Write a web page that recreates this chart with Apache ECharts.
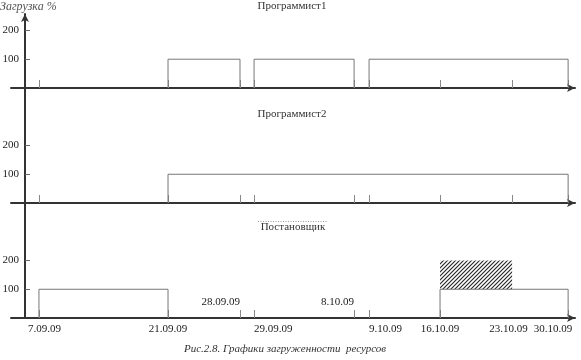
<!DOCTYPE html>
<html>
<head>
<meta charset="utf-8">
<script src="https://cdn.jsdelivr.net/npm/echarts@6/dist/echarts.min.js"></script>
<style>html,body{margin:0;padding:0;background:#fff}#c{width:581px;height:360px}</style>
</head>
<body>
<div id="c"></div>
<script>
// ---- data ----
const dateLabels = ['7.09.09','21.09.09','28.09.09','29.09.09','8.10.09','9.10.09','16.10.09','23.10.09','30.10.09'];
// position of each date on the (schematic) time axis, in axis units
const datePos = [1.4, 14.33, 21.54, 22.95, 32.97, 34.47, 41.58, 48.8, 54.41];
const panelTitles = ['Программист1', 'Программист2', 'Постановщик'];
const capacity = 100;
const yTickValues = [100, 200];
// resource loads: [start, end, load %]
const prog1Load = [['21.09.09','28.09.09',100],['29.09.09','8.10.09',100],['9.10.09','30.10.09',100]];
const prog2Load = [['21.09.09','30.10.09',100]];
const postLoad  = [['7.09.09','21.09.09',100],['16.10.09','23.10.09',200],['23.10.09','30.10.09',100]];
// baseline tick marks per panel
const prog1Ticks = ['7.09.09','21.09.09','28.09.09','29.09.09','8.10.09','9.10.09','16.10.09','23.10.09','30.10.09'];
const prog2Ticks = ['7.09.09','21.09.09','28.09.09','29.09.09','8.10.09','9.10.09','16.10.09','23.10.09','30.10.09'];
const postTicks  = ['7.09.09','21.09.09','28.09.09','29.09.09','8.10.09','9.10.09','16.10.09','30.10.09'];
// date labels under/over the bottom axis
const labelsCenter = ['7.09.09','21.09.09','16.10.09','23.10.09','30.10.09'];
const labelsLeft   = ['29.09.09','9.10.09'];
const labelsAbove  = ['28.09.09','8.10.09'];
const yTitle = 'Загрузка %';
const caption = 'Рис.2.8. Графики загруженности  ресурсов';

// ---- helpers ----
const pos = d => datePos[dateLabels.indexOf(d)];
const lab = v => { let best = 0; datePos.forEach((p,i)=>{ if (Math.abs(p-v) < Math.abs(datePos[best]-v)) best = i; }); return dateLabels[best]; };
const FONT = '"Liberation Serif", "DejaVu Serif", serif';

function outlines(loads){
  const segs = loads.map(l => [pos(l[0]), pos(l[1]), Math.min(l[2], capacity)]).sort((a,b)=>a[0]-b[0]);
  const merged = [];
  segs.forEach(s => {
    const last = merged[merged.length-1];
    if (last && Math.abs(last[1]-s[0]) < 1e-6 && last[2] === s[2]) last[1] = s[1];
    else merged.push(s.slice());
  });
  return merged.map(s => [[s[0],0],[s[0],s[2]],[s[1],s[2]],[s[1],0]]);
}
function overloads(loads){
  return loads.filter(l => l[2] > capacity).map(l => [pos(l[0]), pos(l[1]), capacity, l[2]]);
}
function hatchPattern(){
  const c = document.createElement('canvas'); c.width = c.height = 4;
  const g = c.getContext('2d');
  g.strokeStyle = '#2a2a2a'; g.lineWidth = 1.2;
  g.beginPath();
  g.moveTo(0,4); g.lineTo(4,0);
  g.moveTo(-1,1); g.lineTo(1,-1);
  g.moveTo(3,5); g.lineTo(5,3);
  g.stroke();
  return c;
}

const grids = [
  {left: 11, right: 6, top: 14, height: 74, containLabel: false, outerBoundsMode: 'none'},
  {left: 11, right: 6, top: 88, height: 115, containLabel: false, outerBoundsMode: 'none'},
  {left: 11, right: 6, top: 203, height: 115, containLabel: false, outerBoundsMode: 'none'}
];
const yMax = [257, 400, 400];
const tickSets = [prog1Ticks, prog2Ticks, postTicks];
const loadSets = [prog1Load, prog2Load, postLoad];

const richLabels = {
  n: {fontFamily: 'Liberation Serif', fontSize: 11, color: '#222'},
  r: {fontFamily: 'Liberation Serif', fontSize: 11, color: '#222', padding: [0,0,0,11]},
  l: {fontFamily: 'Liberation Serif', fontSize: 11, color: '#222', padding: [0,7,0,0]},
  ll: {fontFamily: 'Liberation Serif', fontSize: 11, color: '#222', padding: [0,30,0,0]}
};
const centerFmt = v => {
  const t = lab(v);
  if (t === '7.09.09') return '{r|' + t + '}';
  if (t === '23.10.09') return '{l|' + t + '}';
  if (t === '30.10.09') return '{ll|' + t + '}';
  return '{n|' + t + '}';
};

const xAxes = [], yAxes = [], series = [];
grids.forEach((g, i) => {
  xAxes.push({
    type: 'value', gridIndex: i, min: -1.4, max: 55.1, position: 'bottom',
    splitLine: {show: false},
    axisLine: {show: true, symbol: ['none','arrow'], symbolSize: [6,8], lineStyle: {color: '#333', width: 2}},
    axisTick: {show: true, inside: true, length: 8, customValues: tickSets[i].map(pos), lineStyle: {color: '#888', width: 1}},
    axisLabel: i === 2 ? {show: true, customValues: labelsCenter.map(pos), formatter: centerFmt, rich: richLabels, margin: 6, fontFamily: FONT, fontSize: 11, color: '#222'} : {show: false}
  });
  yAxes.push({
    type: 'value', gridIndex: i, min: 0, max: yMax[i], interval: 100,
    splitLine: {show: false},
    axisLine: {show: true, onZero: true, symbol: i === 0 ? ['none','arrow'] : ['none','none'], symbolSize: [6,8], lineStyle: {color: '#333', width: 2}},
    axisTick: {show: true, inside: true, length: 5, customValues: yTickValues, lineStyle: {color: '#666', width: 1}},
    axisLabel: {show: true, customValues: yTickValues, margin: -8, fontFamily: FONT, fontSize: 11, color: '#222'}
  });
  outlines(loadSets[i]).forEach(pts => {
    series.push({type: 'line', xAxisIndex: i, yAxisIndex: i, data: pts, symbol: 'none', silent: true,
      lineStyle: {color: '#777', width: 1}, animation: false});
  });
});
function labelAxis(values, opts){
  return Object.assign({
    type: 'value', gridIndex: 2, min: -1.4, max: 55.1, position: 'bottom',
    splitLine: {show: false}, axisLine: {show: false, onZero: false}, axisTick: {show: false}
  }, {axisLabel: Object.assign({show: true, customValues: values.map(pos), formatter: lab, fontFamily: FONT, fontSize: 11, color: '#222'}, opts)});
}
xAxes.push(labelAxis(labelsLeft, {align: 'left', margin: 6}));
xAxes.push(labelAxis(labelsAbove, {align: 'right', inside: true, margin: 10}));

const pattern = {image: hatchPattern(), repeat: 'repeat'};
series.push({
  type: 'custom', xAxisIndex: 2, yAxisIndex: 2, silent: true, animation: false,
  data: overloads(postLoad),
  encode: {x: [0,1], y: [2,3]},
  renderItem: (params, api) => {
    const p1 = api.coord([api.value(0), api.value(3)]);
    const p2 = api.coord([api.value(1), api.value(2)]);
    return {type: 'rect', shape: {x: p1[0], y: p1[1], width: p2[0]-p1[0], height: p2[1]-p1[1]},
      style: {fill: pattern, stroke: null}};
  }
});

const titleStyle = {fontFamily: FONT, fontSize: 11, fontWeight: 'normal', color: '#333'};
const chart = echarts.init(document.getElementById('c'), null, {renderer: 'canvas'});
chart.setOption({
  animation: false,
  backgroundColor: '#fff',
  title: [
    {text: yTitle, left: 0, top: 1, padding: 0, textStyle: Object.assign({}, titleStyle, {fontStyle: 'italic', fontSize: 12, color: '#555'})},
    {text: panelTitles[0], left: 292, top: 1, padding: 0, textAlign: 'center', textStyle: titleStyle},
    {text: panelTitles[1], left: 292, top: 109, padding: 0, textAlign: 'center', textStyle: titleStyle},
    {text: panelTitles[2], left: 293, top: 222, padding: 0, textAlign: 'center', textStyle: titleStyle},
    {text: caption, left: 285, top: 344, padding: 0, textAlign: 'center', textStyle: Object.assign({}, titleStyle, {fontStyle: 'italic', fontSize: 11})}
  ],
  graphic: [
    {type: 'line', shape: {x1: 258, y1: 221.5, x2: 328, y2: 221.5}, style: {stroke: '#999', lineWidth: 1, lineDash: [1,1.5]}, silent: true}
  ],
  grid: grids,
  xAxis: xAxes,
  yAxis: yAxes,
  series: series
});
</script>
</body>
</html>
